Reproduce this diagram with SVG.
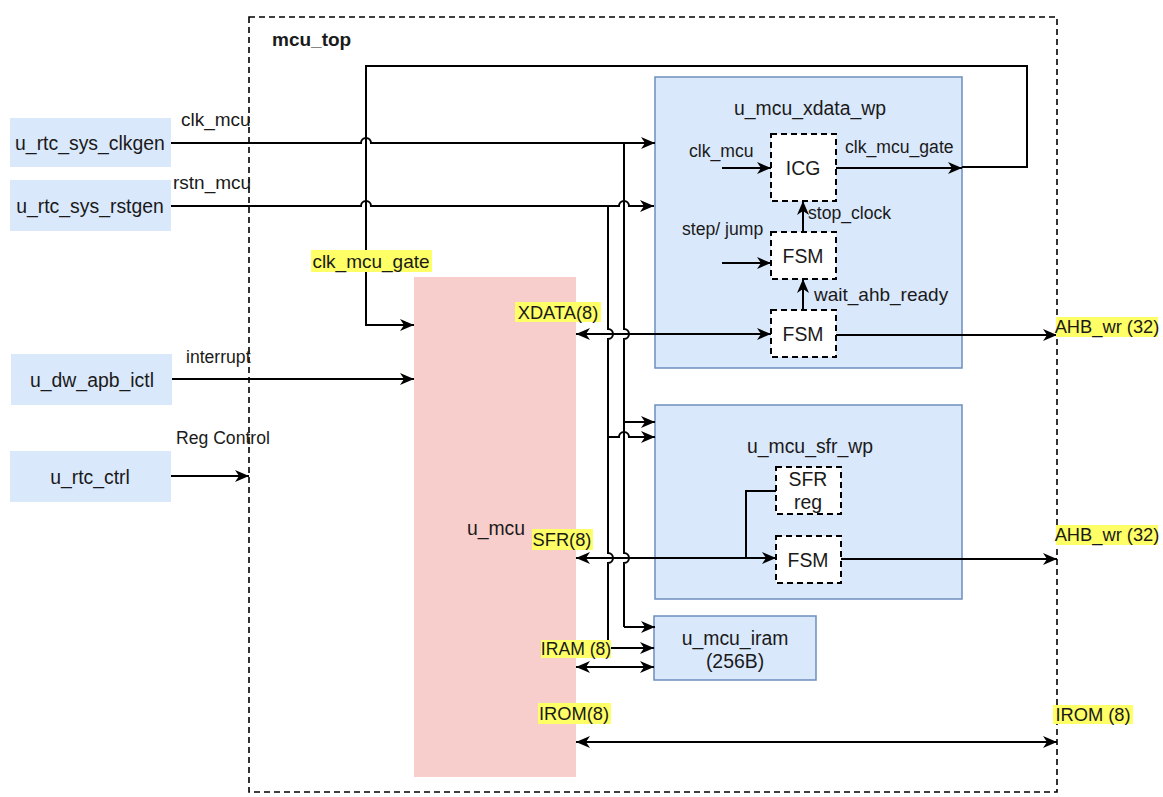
<svg xmlns="http://www.w3.org/2000/svg" width="1163" height="797" viewBox="0 0 1163 797">
<style>
text{font-family:"Liberation Sans",Arial,sans-serif;fill:#1a1a1a;}
.n{font-size:19.4px;text-anchor:middle;}
.l{font-size:19px;}
.s{font-size:17.6px;}
.r{font-size:18.3px;}
.c{text-anchor:middle;}
.hl{fill:#ffff66;}
.blue{fill:#dae8fc;stroke:#6c8ebf;stroke-width:1.5;}
.ext{fill:#dae8fc;}
.dbox{fill:#ffffff;stroke:#000;stroke-width:2;stroke-dasharray:6 4;}
.w{fill:none;stroke:#000;stroke-width:2;}
.a{marker-end:url(#ah);}
.b{marker-start:url(#ah);marker-end:url(#ah);}
</style>
<defs>
<marker id="ah" markerUnits="userSpaceOnUse" markerWidth="16" markerHeight="14" viewBox="0 0 16 14" refX="15" refY="7" orient="auto-start-reverse">
<path d="M1,1 L15,7 L1,13 L5,7 Z" fill="#000"/>
</marker>
</defs>
<rect width="1163" height="797" fill="#ffffff"/>

<g id="mcu_top">
<rect x="249" y="17" width="808" height="775" fill="none" stroke="#000" stroke-width="1.6" stroke-dasharray="6 4"/>
<text x="272" y="46" style="font-size:19px;font-weight:bold">mcu_top</text>
</g>

<g id="u_rtc_sys_clkgen"><rect class="ext" x="10" y="118" width="161" height="49"/><text class="n" x="90" y="150">u_rtc_sys_clkgen</text></g>
<g id="u_rtc_sys_rstgen"><rect class="ext" x="10" y="180" width="161" height="51"/><text class="n" x="90" y="213">u_rtc_sys_rstgen</text></g>
<g id="u_dw_apb_ictl"><rect class="ext" x="11" y="354" width="161" height="51"/><text class="n" x="92" y="387">u_dw_apb_ictl</text></g>
<g id="u_rtc_ctrl"><rect class="ext" x="10" y="451" width="161" height="51"/><text class="n" x="90" y="484">u_rtc_ctrl</text></g>

<g id="u_mcu"><rect x="414" y="277" width="162" height="500" fill="#f8cecc"/><text class="n" x="496" y="535">u_mcu</text></g>

<g id="u_mcu_xdata_wp">
<rect class="blue" x="655" y="77" width="307" height="291"/>
<text class="n" x="810" y="115">u_mcu_xdata_wp</text>
</g>
<g id="icg"><rect class="dbox" x="771" y="134" width="65" height="67"/><text class="n" x="803" y="175">ICG</text></g>
<g id="fsm_step"><rect class="dbox" x="771" y="232" width="65" height="47"/><text class="n" x="803" y="263">FSM</text></g>
<g id="fsm_xdata"><rect class="dbox" x="771" y="310" width="65" height="47"/><text class="n" x="803" y="341">FSM</text></g>

<g id="u_mcu_sfr_wp">
<rect class="blue" x="655" y="405" width="307" height="194"/>
<text class="n" x="810" y="453">u_mcu_sfr_wp</text>
</g>
<g id="sfr_reg"><rect class="dbox" x="776" y="467" width="65" height="47"/><text class="n" x="808" y="486">SFR</text><text class="n" x="808" y="509">reg</text></g>
<g id="fsm_sfr"><rect class="dbox" x="776" y="536" width="65" height="47"/><text class="n" x="808" y="567">FSM</text></g>

<g id="u_mcu_iram">
<rect class="blue" x="654" y="616" width="162" height="64"/>
<text class="n" x="735" y="645">u_mcu_iram</text>
<text class="n" x="735" y="668">(256B)</text>
</g>

<g id="connectors">
<path class="w a" d="M171,143 H361 A5,5 0 0 1 371,143 H655"/>
<path class="w a" d="M171,206 H361 A5,5 0 0 1 371,206 H619 A5,5 0 0 1 629,206 H654"/>
<path class="w a" d="M962,167 H1027 V66 H366 V325 H414"/>
<path class="w a" d="M172,379 H414"/>
<path class="w a" d="M171,476 H249"/>
<path class="w" d="M624,143 V329 A5,5 0 0 1 624,339 V553 A5,5 0 0 1 624,563 V627"/>
<path class="w a" d="M624,422 H655"/>
<path class="w a" d="M624,627 H655"/>
<path class="w" d="M608,206 V329 A5,5 0 0 1 608,339 V553 A5,5 0 0 1 608,563 V648"/>
<path class="w a" d="M608,437 H619 A5,5 0 0 1 629,437 H655"/>
<path class="w a" d="M608,648 H654"/>
<path class="w a" d="M722,168 H771"/>
<path class="w a" d="M836,168 H962"/>
<path class="w a" d="M722,263 H771"/>
<path class="w a" d="M803,232 V201"/>
<path class="w a" d="M803,310 V279"/>
<path class="w b" d="M576,334 H771"/>
<path class="w a" d="M836,335 H1057"/>
<path class="w b" d="M576,558 H776"/>
<path class="w" d="M746,558 V491 H776"/>
<path class="w a" d="M841,559 H1057"/>
<path class="w b" d="M576,667 H654"/>
<path class="w b" d="M576,742 H1057"/>
</g>

<g id="labels">
<text class="l" x="181" y="126">clk_mcu</text>
<text class="l" x="173" y="189">rstn_mcu</text>
<text class="s" x="186" y="363">interrupt</text>
<text class="s" x="176" y="444">Reg Control</text>
<rect class="hl" x="311" y="250" width="121" height="22"/>
<text class="l c" x="371" y="268">clk_mcu_gate</text>
<text class="s" x="689" y="157">clk_mcu</text>
<text class="s" x="845" y="153">clk_mcu_gate</text>
<text class="s" x="682" y="235">step/ jump</text>
<text class="s" x="808" y="219">stop_clock</text>
<text class="l" x="814" y="301">wait_ahb_ready</text>
<rect class="hl" x="515" y="302" width="86" height="20"/>
<text class="r c" x="558" y="319">XDATA(8)</text>
<rect class="hl" x="532" y="529" width="61" height="21"/>
<text class="r c" x="562" y="546">SFR(8)</text>
<rect class="hl" x="541" y="640" width="70" height="18"/>
<text class="s c" x="576" y="655">IRAM (8)</text>
<rect class="hl" x="538" y="703" width="73" height="21"/>
<text class="r c" x="574" y="720">IROM(8)</text>
<rect class="hl" x="1056" y="317" width="102" height="20"/>
<text class="r c" x="1107" y="333">AHB_wr (32)</text>
<rect class="hl" x="1056" y="525" width="102" height="20"/>
<text class="r c" x="1107" y="541">AHB_wr (32)</text>
<rect class="hl" x="1053" y="705" width="80" height="19"/>
<text class="r c" x="1093" y="721">IROM (8)</text>
</g>
</svg>
